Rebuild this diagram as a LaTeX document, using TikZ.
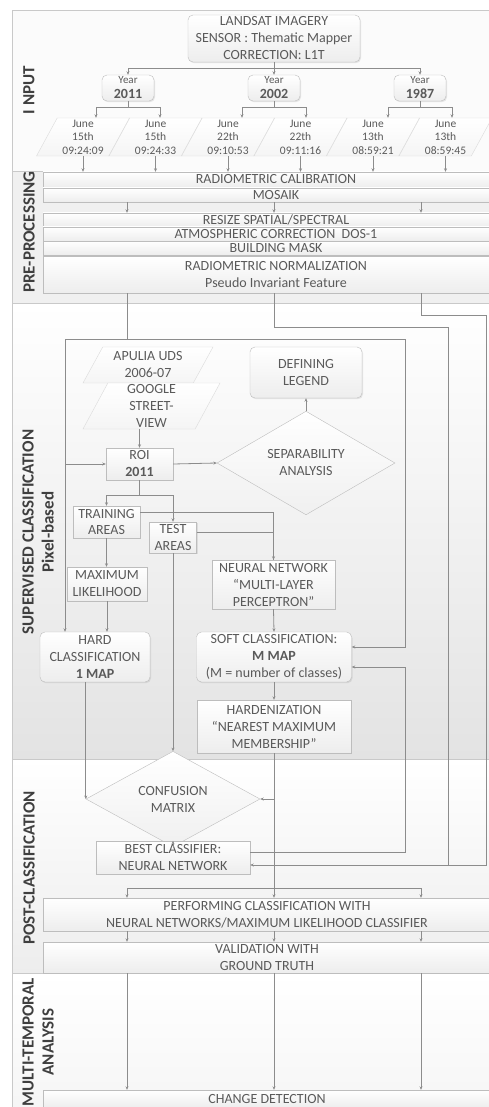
\documentclass[tikz,border=0pt]{standalone}
\usepackage{fontspec}
\setmainfont{Carlito}
\usetikzlibrary{shapes.geometric,arrows.meta,shadows,calc}

\definecolor{lnc}{HTML}{8C8C8C}
\definecolor{bdc}{HTML}{BDBDBD}
\definecolor{txc}{HTML}{5A5A5A}
\definecolor{labc}{HTML}{3F3F3F}
\definecolor{bandc}{HTML}{C9C9C9}

\begin{document}
\begin{tikzpicture}[x=1pt, y=-1pt,
	txt/.style={font=\fontsize{14}{17}\selectfont, text=txc, align=center},
	procbox/.style={txt, draw=bdc, top color=white, bottom color=black!7, inner sep=1pt,
		drop shadow={shadow xshift=1pt, shadow yshift=-1.2pt, opacity=.18}},
	roundbox/.style={procbox, rounded corners=5pt},
	barbox/.style={procbox, minimum width=466pt, minimum height=14pt, inner ysep=0pt},
	postbar/.style={procbox, minimum width=448pt, inner ysep=0pt},
	yearbox/.style={roundbox, font=\fontsize{11}{15}\selectfont, minimum width=52pt, minimum height=26pt},
	parabox/.style={txt, draw=black!14, top color=white, bottom color=black!4, shape=trapezium,
		trapezium stretches body, inner sep=0pt},
	datebox/.style={parabox, font=\fontsize{11.5}{13.5}\selectfont, trapezium left angle=59,
		trapezium right angle=121, minimum width=93pt, minimum height=38pt},
	decbox/.style={txt, draw=bdc, top color=white, bottom color=black!6, shape=diamond, inner sep=0pt},
	seclabel/.style={font=\fontsize{17}{20}\selectfont\bfseries, text=labc, rotate=90, align=center},
	band/.style={draw=bandc, line width=.6pt},
	link/.style={draw=lnc, line width=.8pt},
	flow/.style={link, -{Stealth[length=3.5pt, width=3pt]}}
	]
	\useasboundingbox (0,0) rectangle (489,1107);
	\fill[white] (0,0) rectangle (489,1107);

	\draw[band, fill=black!1.5] (12,10) rectangle (495,171);
	\draw[band, fill=black!6] (12,171) rectangle (495,303);
	\draw[band, top color=white, bottom color=black!11] (12,303) rectangle (495,759);
	\draw[band, top color=white, bottom color=black!7] (12,759) rectangle (495,973);
	\draw[band, top color=white, bottom color=black!4] (12,973) rectangle (495,1120);

	\node[seclabel] (lin) at (29,90) {I NPUT};
	\node[seclabel] (lpre) at (29,232) {PRE-PROCESSING};
	\node[seclabel] (lsup) at (38,532) {SUPERVISED CLASSIFICATION\\Pixel-based};
	\node[seclabel] (lpost) at (29,868) {POST-CLASSIFICATION};
	\node[seclabel] (lmulti) at (38,1042) {MULTI-TEMPORAL\\ANALYSIS};

	\node[roundbox, minimum width=172pt, minimum height=47pt] (landsat) at (274,38.5) {LANDSAT IMAGERY\\SENSOR : Thematic Mapper\\CORRECTION: L1T};
	\node[yearbox] (y2011) at (128,88) {Year\\{\fontsize{14}{15}\selectfont\bfseries 2011}};
	\node[yearbox] (y2002) at (274,88) {Year\\{\fontsize{14}{15}\selectfont\bfseries 2002}};
	\node[yearbox] (y1987) at (420,88) {Year\\{\fontsize{14}{15}\selectfont\bfseries 1987}};

	\node[datebox] (d1) at (83,137) {June\\15th\\09:24:09};
	\node[datebox] (d2) at (155.5,137) {June\\15th\\09:24:33};
	\node[datebox] (d3) at (228,137) {June\\22th\\09:10:53};
	\node[datebox] (d4) at (300.5,137) {June\\22th\\09:11:16};
	\node[datebox] (d5) at (373,137) {June\\13th\\08:59:21};
	\node[datebox] (d6) at (445.5,137) {June\\13th\\08:59:45};

	\node[barbox, minimum height=15pt] (radcal) at (276,179.5) {RADIOMETRIC CALIBRATION};
	\node[barbox] (mosaik) at (276,195) {MOSAIK};
	\node[barbox] (resize) at (276,220) {RESIZE SPATIAL/SPECTRAL};
	\node[barbox] (atmos) at (276,234) {ATMOSPHERIC CORRECTION\ \ DOS-1};
	\node[barbox] (bmask) at (276,248) {BUILDING MASK};
	\node[barbox, minimum height=37pt] (norm) at (276,274.5) {RADIOMETRIC NORMALIZATION\\Pseudo Invariant Feature};

	\node[parabox, trapezium left angle=53, trapezium right angle=127, minimum width=130pt, minimum height=36pt] (apulia) at (148,365) {APULIA UDS\\2006-07};
	\node[parabox, trapezium left angle=60, trapezium right angle=120, minimum width=137pt, minimum height=46pt] (google) at (151.5,406) {GOOGLE\\STREET-\\VIEW};
	\node[roundbox, minimum width=112pt, minimum height=51pt] (legend) at (306,372.5) {DEFINING\\LEGEND};
	\node[procbox, minimum width=67pt, minimum height=32pt] (roi) at (139.5,464) {ROI\\\textbf{2011}};
	\node[decbox, minimum width=178pt, minimum height=70pt] (sep) at (306,463) {SEPARABILITY\\ANALYSIS};
	\node[procbox, minimum width=67pt, minimum height=32pt] (train) at (106.5,522) {TRAINING\\AREAS};
	\node[procbox, minimum width=47pt, minimum height=31pt] (test) at (173,537.5) {TEST\\AREAS};
	\node[procbox, minimum width=80pt, minimum height=34pt] (ml) at (107,584) {MAXIMUM\\LIKELIHOOD};
	\node[procbox, minimum width=123pt, minimum height=49pt] (nn) at (273.5,584.5) {NEURAL NETWORK\\``MULTI-LAYER\\PERCEPTRON''};
	\node[roundbox, minimum width=110pt, minimum height=50pt] (hard) at (95,657) {HARD\\CLASSIFICATION\\\textbf{1 MAP}};
	\node[roundbox, minimum width=155pt, minimum height=50pt] (soft) at (274,657) {SOFT CLASSIFICATION:\\\textbf{M MAP}\\(M = number of classes)};
	\node[procbox, minimum width=154pt, minimum height=53pt] (harden) at (274,726.5) {HARDENIZATION\\``NEAREST MAXIMUM\\MEMBERSHIP''};

	\node[decbox, minimum width=174pt, minimum height=52pt] (conf) at (173,799) {CONFUSION\\MATRIX};
	\node[procbox, minimum width=154pt, minimum height=33pt] (best) at (173,857.5) {BEST CLASSIFIER:\\NEURAL NETWORK};
	\node[postbar, minimum height=33pt] (perf) at (267,914.5) {PERFORMING CLASSIFICATION WITH\\NEURAL NETWORKS/MAXIMUM LIKELIHOOD CLASSIFIER};
	\node[postbar, minimum height=31pt] (valid) at (267,957.5) {VALIDATION WITH\\GROUND TRUTH};
	\node[postbar, minimum height=18pt] (change) at (267,1099) {CHANGE DETECTION};

	\coordinate (c1) at (127,0);
	\coordinate (c2) at (274,0);
	\coordinate (c3) at (421,0);
	\coordinate (ftl) at (65,339);
	\coordinate (ftr) at (405,339);
	\coordinate (b2) at (448,327);
	\coordinate (b2e) at (448,865);
	\coordinate (b3) at (486,315);
	\coordinate (b3e) at (486,865);
	\coordinate (pbus) at (274,888);

	\draw[link] (landsat.south) -- ++(0,6) coordinate (lbus);
	\draw[flow] (lbus) -| (y2011.north);
	\draw[flow] (lbus) -- (y2002.north);
	\draw[flow] (lbus) -| (y1987.north);
	\foreach \yr/\da/\db in {y2011/d1/d2, y2002/d3/d4, y1987/d5/d6} {
		\draw[link] (\yr.south) -- ++(0,6) coordinate (ybus);
		\draw[flow] (ybus) -| ($(\yr.south |- \da.north)+(-32,0)$);
		\draw[flow] (ybus) -| ($(\yr.south |- \db.north)+(32,0)$);
	}
	\foreach \d in {d1,d2,d3,d4,d5,d6}
		\draw[flow] (\d.south) -- (\d.south |- radcal.north);
	\foreach \c in {c1,c2,c3}
		\draw[flow] (mosaik.south -| \c) -- (resize.north -| \c);

	\draw[link] (norm.south -| c1) -- (c1 |- ftl);
	\draw[link] (ftl) -- (ftr);
	\draw[flow] (ftl) -- (ftl |- hard.north);
	\draw[flow] (ftl |- roi.west) -- (roi.west);
	\draw[flow] (ftr) |- ($(soft.east)+(0,-10)$);
	\draw[link] (norm.south -| c2) |- (b2) -- (b2e);
	\draw[link] (norm.south -| c3) |- (b3) -- (b3e) -- (b2e);
	\draw[flow] (b2e) -- (b2e -| best.east);
	\draw[flow] ($(best.east)+(0,-5)$) -| ($(ftr |- soft.east)+(0,10)$) -- ($(soft.east)+(0,10)$);

	\draw[flow] (roi.north |- google.south) -- (roi.north);
	\draw[flow] (roi.east) -- (sep.west);
	\draw[flow] (sep.north) -- (legend.south);
	\draw[link] (roi.south) -- ++(0,15) coordinate (rbus);
	\draw[flow] (rbus) -| (train.north);
	\draw[flow] (rbus) -| (test.north);
	\draw[flow] ($(train.east)+(0,-10)$) -| (nn.north);
	\draw[link] ($(test.east)+(0,-5)$) -| (nn.north);
	\draw[flow] (train.south) -- (train.south |- ml.north);
	\draw[flow] (ml.south) -- (ml.south |- hard.north);
	\draw[flow] (nn.south) -- (soft.north);
	\draw[flow] (soft.south) -- (harden.north);

	\draw[flow] (hard.south -| conf.west) -- (conf.west);
	\draw[flow] (test.south) -- (conf.north);
	\draw[link] (harden.south) -- (pbus);
	\draw[flow] (harden.south |- conf.east) -- (conf.east);
	\draw[flow] (conf.south) -- (best.north);
	\draw[flow] (pbus) -| (perf.north -| c1);
	\draw[flow] (pbus) -- (perf.north -| c2);
	\draw[flow] (pbus) -| (perf.north -| c3);
	\foreach \c in {c1,c2,c3} {
		\draw[flow] (perf.south -| \c) -- (valid.north -| \c);
		\draw[flow] (valid.south -| \c) -- (change.north -| \c);
	}
\end{tikzpicture}
\end{document}
